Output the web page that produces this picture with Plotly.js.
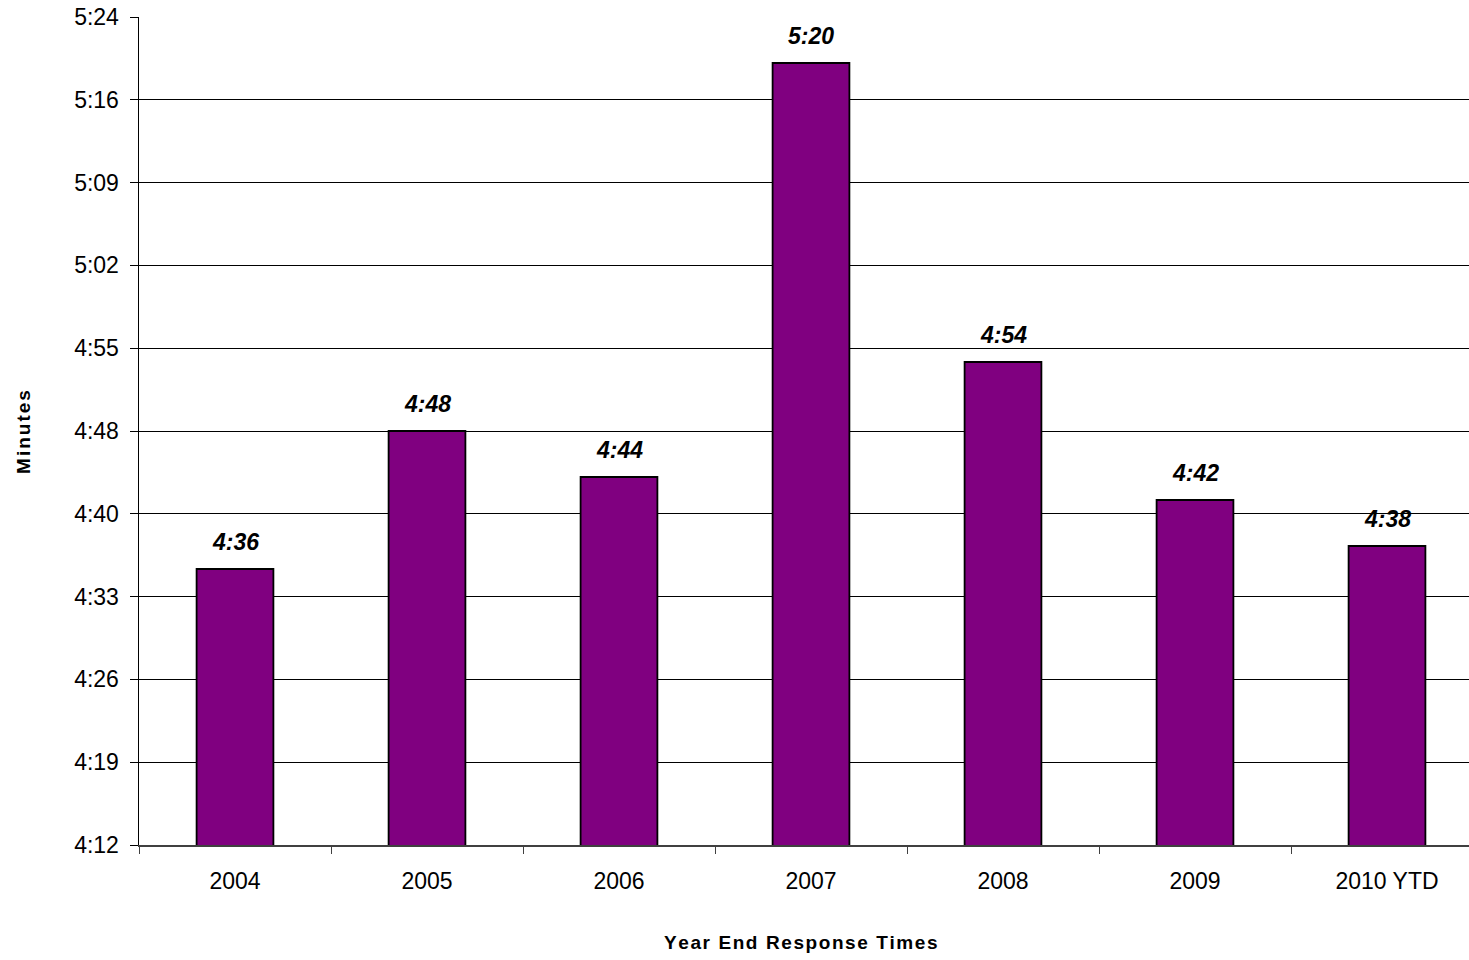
<!DOCTYPE html>
<html>
<head>
<meta charset="utf-8">
<script src="https://cdn.plot.ly/plotly-3.0.1.min.js"></script>
<style>
html,body{margin:0;padding:0;background:#fff;overflow:hidden;}
#wrap{width:1469px;height:960px;overflow:hidden;}
#chart{width:1483px;height:960px;}
.xtitle,.ytitle,.annotation.xt text{letter-spacing:2px;}
</style>
</head>
<body>
<div id="wrap"><div id="chart"></div></div>
<script>
// Categories and values (seconds)
var categories = ['2004', '2005', '2006', '2007', '2008', '2009', '2010 YTD'];
var valuesSeconds = [276, 288, 284, 320, 294, 282, 278];
var valueLabels = ['4:36', '4:48', '4:44', '5:20', '4:54', '4:42', '4:38'];
var yTickVals = [252, 259.2, 266.4, 273.6, 280.8, 288, 295.2, 302.4, 309.6, 316.8, 324];
var yTickLabels = ['4:12', '4:19', '4:26', '4:33', '4:40', '4:48', '4:55', '5:02', '5:09', '5:16', '5:24'];
var xTitle = 'Year End Response Times';
var yTitle = 'Minutes';

var FONT = 'Liberation Sans, Arial, sans-serif';

var trace = {
  type: 'bar',
  x: categories,
  y: valuesSeconds,
  marker: {color: '#800080', line: {color: '#000000', width: 1.8}},
  hoverinfo: 'skip'
};

var annotations = categories.map(function (c, i) {
  return {
    x: i, y: valuesSeconds[i], xref: 'x', yref: 'y',
    text: '<b><i>' + valueLabels[i] + '</i></b>',
    showarrow: false, yanchor: 'bottom', yshift: 12,
    font: {family: FONT, size: 23, color: '#000'}
  };
});
// x-axis title, centred on the visible chart width
annotations.push({
  x: 0.4926, y: -0.118, xref: 'paper', yref: 'paper',
  xanchor: 'center', yanchor: 'middle', showarrow: false,
  text: '<b>' + xTitle.split('').join('\u200A') + '</b>',
  font: {family: FONT, size: 19, color: '#000'}
});

var layout = {
  width: 1483, height: 960,
  margin: {l: 139, r: 0, t: 17, b: 115},
  paper_bgcolor: '#fff', plot_bgcolor: '#fff',
  showlegend: false,
  bargap: 0.6,
  font: {family: FONT, color: '#000'},
  xaxis: {
    type: 'category',
    categoryorder: 'array', categoryarray: categories,
    range: [-0.5, categories.length - 0.5], autorange: false,
    tickangle: 0,
    showline: true, linecolor: '#404040', linewidth: 1.5,
    ticks: 'outside', tickson: 'boundaries', ticklen: 7, tickcolor: '#404040', tickwidth: 1,
    tickfont: {family: FONT, size: 23, color: '#000'},
    ticklabelstandoff: 15,
    showgrid: false, zeroline: false,
    automargin: false
  },
  yaxis: {
    range: [252, 324], autorange: false,
    tickmode: 'array', tickvals: yTickVals, ticktext: yTickLabels,
    showline: true, linecolor: '#000', linewidth: 1.5,
    ticks: 'outside', ticklen: 8, tickcolor: '#000', tickwidth: 1,
    tickfont: {family: FONT, size: 23, color: '#000'},
    ticklabelstandoff: 6,
    showgrid: true, gridcolor: '#000', gridwidth: 1,
    zeroline: false,
    title: {text: '<b>' + yTitle + '</b>', font: {family: FONT, size: 19, color: '#000'}, standoff: 38},
    automargin: false
  },
  annotations: annotations
};

Plotly.newPlot('chart', [trace], layout, {displayModeBar: false, staticPlot: true});
</script>
</body>
</html>
